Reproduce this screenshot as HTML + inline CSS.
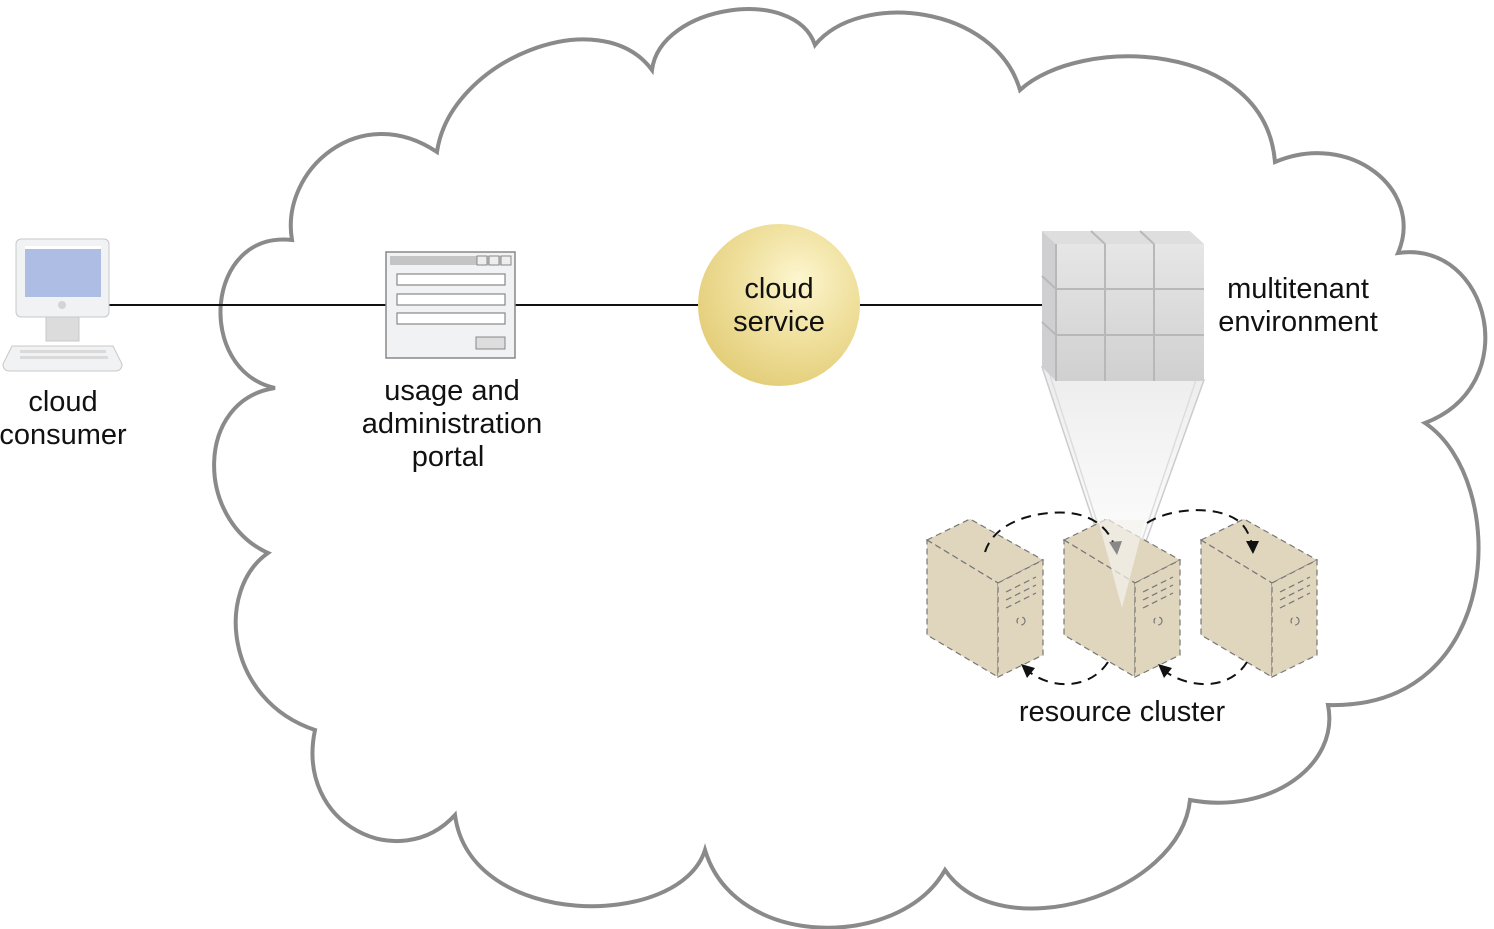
<!DOCTYPE html>
<html><head><meta charset="utf-8"><style>
html,body{margin:0;padding:0;background:#fff}
svg{display:block}
text{font-family:"Liberation Sans",Arial,sans-serif;font-size:29px;fill:#111}
</style></head><body>
<svg width="1494" height="929" viewBox="0 0 1494 929" xmlns="http://www.w3.org/2000/svg">
<defs>
<radialGradient id="gold" cx="0.62" cy="0.35" r="0.7">
<stop offset="0" stop-color="#fdf6d0"/><stop offset="0.5" stop-color="#f0e19f"/><stop offset="1" stop-color="#e3cd78"/>
</radialGradient>
<linearGradient id="cone" x1="0" y1="0" x2="0" y2="1">
<stop offset="0" stop-color="#ececec"/><stop offset="1" stop-color="#ffffff" stop-opacity="0.6"/>
</linearGradient>
<linearGradient id="cube" x1="0" y1="0" x2="0" y2="1">
<stop offset="0" stop-color="#e6e6e6"/><stop offset="1" stop-color="#d0d0d0"/>
</linearGradient>
</defs>
<path d="M292,240 C280,170 360,100 437,152 C450,60 600,0 652,70 C660,5 795,-15 815,45 C860,-10 995,5 1020,90 C1080,35 1265,40 1275,162 C1350,130 1425,190 1398,253 C1490,240 1525,385 1425,423 C1510,480 1505,710 1328,705 C1340,765 1270,815 1190,800 C1180,895 1000,950 945,870 C900,950 735,950 705,850 C680,930 470,930 455,815 C400,875 295,825 315,730 C225,700 215,590 268,553 C195,520 195,400 275,388 C195,370 205,230 292,240 Z" fill="none" stroke="#8a8a8a" stroke-width="4"/>
<line x1="108" y1="305" x2="387" y2="305" stroke="#111" stroke-width="2"/>
<line x1="515" y1="305" x2="700" y2="305" stroke="#111" stroke-width="2"/>
<line x1="860" y1="305" x2="1048" y2="305" stroke="#111" stroke-width="2"/>
<rect x="16" y="239" width="93" height="78" rx="5" fill="#f1f2f4" stroke="#c8c8c8"/>
<rect x="25" y="246" width="76" height="51" fill="#aebde3"/>
<rect x="25" y="246" width="76" height="3" fill="#fff"/>
<circle cx="62" cy="305" r="4" fill="#d4d4d4"/>
<rect x="46" y="317" width="33" height="24" fill="#dcdcdc" stroke="#c8c8c8"/>
<path d="M12,346 L113,346 L122,364 Q122,371 115,371 L10,371 Q3,371 3,364 Z" fill="#f1f2f4" stroke="#c8c8c8"/>
<rect x="20" y="350" width="86" height="3" fill="#dadada"/>
<rect x="20" y="356" width="88" height="3" fill="#dadada"/>
<rect x="386" y="252" width="129" height="106" fill="#f1f2f4" stroke="#888" stroke-width="1.5"/>
<rect x="390" y="256" width="121" height="9" fill="#c4c4c4"/>
<rect x="477" y="256" width="10" height="9" fill="#eee" stroke="#888"/>
<rect x="489" y="256" width="10" height="9" fill="#eee" stroke="#888"/>
<rect x="501" y="256" width="10" height="9" fill="#eee" stroke="#888"/>
<rect x="397" y="274" width="108" height="11" fill="#fff" stroke="#888" stroke-width="1.2"/>
<rect x="397" y="294" width="108" height="11" fill="#fff" stroke="#888" stroke-width="1.2"/>
<rect x="397" y="313" width="108" height="11" fill="#fff" stroke="#888" stroke-width="1.2"/>
<rect x="476" y="337" width="29" height="12" fill="#ddd" stroke="#888"/>
<circle cx="779" cy="305" r="81" fill="url(#gold)"/>
<text x="779" y="298" text-anchor="middle">cloud</text>
<text x="779" y="331" text-anchor="middle">service</text>
<polygon points="1042,367 1204,380 1122,608" fill="url(#cone)" stroke="#ccc" stroke-width="1.5"/>
<line x1="1049" y1="372" x2="1122" y2="600" stroke="#ddd" stroke-width="1.5"/>
<line x1="1196" y1="380" x2="1122" y2="600" stroke="#ddd" stroke-width="1.5"/>
<polygon points="1042,231 1056,244 1056,381 1042,367" fill="#cfcfd1"/>
<polygon points="1042,231 1190,231 1204,244 1056,244" fill="#dedede"/>
<rect x="1056" y="244" width="148" height="137" fill="url(#cube)"/>
<g stroke="#b8b8b8" stroke-width="2" fill="none">
<line x1="1105" y1="244" x2="1105" y2="381"/><line x1="1154" y1="244" x2="1154" y2="381"/>
<line x1="1056" y1="289" x2="1204" y2="289"/><line x1="1056" y1="335" x2="1204" y2="335"/>
<line x1="1091" y1="231" x2="1105" y2="244"/><line x1="1140" y1="231" x2="1154" y2="244"/>
<line x1="1042" y1="276" x2="1056" y2="289"/><line x1="1042" y1="322" x2="1056" y2="335"/>
<line x1="1056" y1="244" x2="1056" y2="381"/>
</g>
<text x="1298" y="298" text-anchor="middle">multitenant</text>
<text x="1298" y="331" text-anchor="middle">environment</text>
<g id="srv" fill="#e0d5bd" stroke="#777" stroke-width="1.2" stroke-dasharray="6,4">
<polygon points="927,540 970,519 1043,560 998,583"/>
<polygon points="927,540 998,583 998,677 927,635"/>
<polygon points="998,583 1043,560 1043,655 998,677"/>
<line x1="1006" y1="592" x2="1036" y2="577"/><line x1="1006" y1="600" x2="1036" y2="585"/><line x1="1006" y1="608" x2="1036" y2="593"/>
<circle cx="1021" cy="621" r="4" fill="none"/>
</g>
<use href="#srv" x="137"/>
<use href="#srv" x="274"/>
<polygon points="1098,520 1145,520 1122,608" fill="#f4f2ee" opacity="0.7"/>
<g fill="none" stroke="#111" stroke-width="2" stroke-dasharray="10,7">
<path d="M985,552 C995,520 1040,510 1070,513 C1095,516 1110,530 1115,548"/>
<path d="M1147,523 C1170,508 1215,505 1237,520 C1245,525 1250,535 1253,548"/>
<path d="M1108,662 C1090,690 1050,690 1027,670"/>
<path d="M1247,662 C1230,690 1190,690 1163,670"/>
</g>
<g fill="#111">
<polygon points="1253,554 1246,541 1259,541"/>
<polygon points="1117,555 1109,542 1122,541" fill="#888"/>
<polygon points="1021,664 1035,668 1027,678"/>
<polygon points="1158,664 1172,668 1164,678"/>
</g>
<text x="63" y="411" text-anchor="middle">cloud</text>
<text x="63" y="444" text-anchor="middle">consumer</text>
<text x="452" y="400" text-anchor="middle">usage and</text>
<text x="452" y="433" text-anchor="middle">administration</text>
<text x="448" y="466" text-anchor="middle">portal</text>
<text x="1122" y="721" text-anchor="middle">resource cluster</text>
</svg>
</body></html>
